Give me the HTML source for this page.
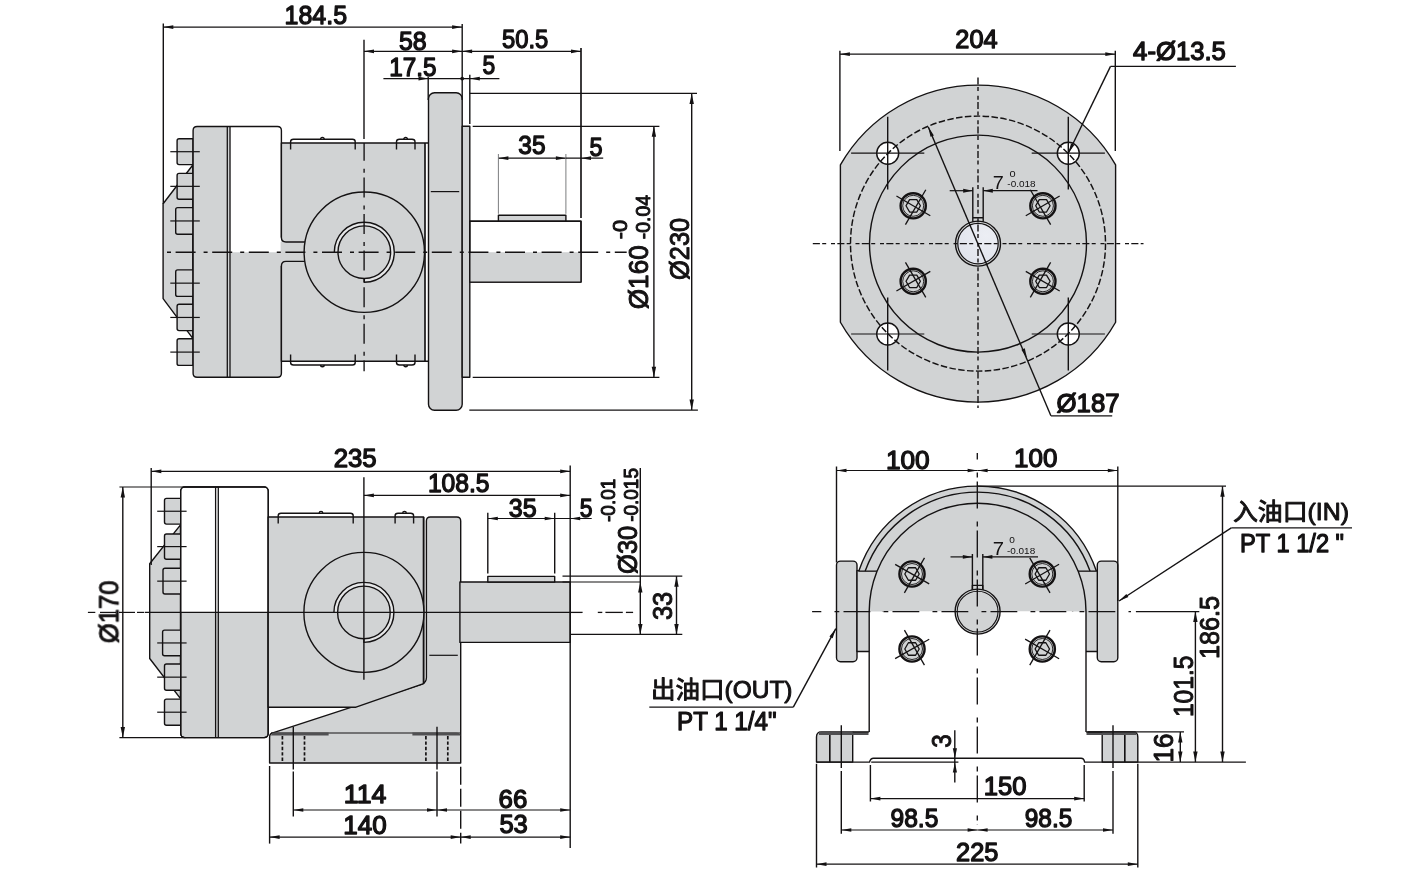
<!DOCTYPE html>
<html lang="zh">
<head>
<meta charset="utf-8">
<title>Pump dimension drawing</title>
<style>
html,body{margin:0;padding:0;background:#fff;}
body{width:1405px;height:877px;overflow:hidden;font-family:"Liberation Sans","Noto Sans CJK SC",sans-serif;}
svg{display:block;}
.o{fill:none;stroke:#141213;stroke-width:1.4;stroke-linejoin:round;}
.g{fill:#d1d3d4;stroke:#141213;stroke-width:1.4;stroke-linejoin:round;}
.w{fill:#fff;stroke:#141213;stroke-width:1.4;stroke-linejoin:round;}
.gf{fill:#d1d3d4;stroke:none;}
.wf{fill:#fff;stroke:none;}
.rf{fill:#e6e7e8;stroke:none;}
.d{fill:none;stroke:#141213;stroke-width:1.2;}
.dv{fill:none;stroke:#141213;stroke-width:1.4;}
.ov{fill:none;stroke:#141213;stroke-width:1.65;}
.oh{fill:none;stroke:#141213;stroke-width:1.25;}
.k{fill:none;stroke:#6d6e71;stroke-width:0.9;}
.c{fill:none;stroke:#141213;stroke-width:1.35;stroke-dasharray:20 8 4 4.6;stroke-dashoffset:26.6;}
.c2{fill:none;stroke:#141213;stroke-width:1.4;stroke-dasharray:7.1 2.3 4 4.8 4 2.3;}
.c3{fill:none;stroke:#141213;stroke-width:1.35;stroke-dasharray:26.8 13.2 4.8 4.2;}
.h{fill:none;stroke:#141213;stroke-width:1.45;stroke-dasharray:6.5 2.4;}
.a{fill:#141213;stroke:none;}
text{font-family:"Liberation Sans","Noto Sans CJK SC",sans-serif;fill:#141213;}
.t{stroke:#141213;stroke-width:1.35px;stroke-linejoin:round;}
.v{stroke:#141213;stroke-width:1.0px;stroke-linejoin:round;}
.l{stroke:#141213;stroke-width:0.95px;stroke-linejoin:round;}
.p{stroke:#141213;stroke-width:1.25px;stroke-linejoin:round;}
.s{stroke:none;}
</style>
</head>
<body>
<svg width="1405" height="877" viewBox="0 0 1405 877">
<defs><radialGradient id="holeg" cx="0.7" cy="0.3" r="0.9"><stop offset="0" stop-color="#eceef4"/><stop offset="1" stop-color="#dfe2eb"/></radialGradient></defs>
<rect x="0" y="0" width="1405" height="877" fill="#fff"/>
<g id="view-top-left">
<path class="g" d="M192.8 165 L163.1 203.8 L163.1 298.6 L192.8 338.4 Z"/>
<path class="g" d="M193 138.8 H179.1 Q177.1 138.8 177.1 140.8 V162.6 Q177.1 164.6 179.1 164.6 H193 Z"/>
<path class="g" d="M193 173.4 H179.1 Q177.1 173.4 177.1 175.4 V197.3 Q177.1 199.3 179.1 199.3 H193 Z"/>
<path class="g" d="M193 207.6 H177.7 Q175.7 207.6 175.7 209.6 V232.3 Q175.7 234.3 177.7 234.3 H193 Z"/>
<path class="g" d="M193 269.9 H177.7 Q175.7 269.9 175.7 271.9 V294.4 Q175.7 296.4 177.7 296.4 H193 Z"/>
<path class="g" d="M193 304.3 H179.1 Q177.1 304.3 177.1 306.3 V328.6 Q177.1 330.6 179.1 330.6 H193 Z"/>
<path class="g" d="M193 338.8 H179.1 Q177.1 338.8 177.1 340.8 V363.4 Q177.1 365.4 179.1 365.4 H193 Z"/>
<rect class="gf" x="193.1" y="126.5" width="88.3" height="250.8" rx="4"/>
<path class="wf" d="M230.4 252.2 V126.5 H277.4 Q281.4 126.5 281.4 130.5 V252.2 Z"/>
<path class="o" d="M281.4 237.5 V130.5 Q281.4 126.5 277.4 126.5 H197.1 Q193.1 126.5 193.1 130.5 V373.3 Q193.1 377.3 197.1 377.3 H277.4 Q281.4 377.3 281.4 373.3 V266"/>
<line class="dv" x1="227.3" y1="126.5" x2="227.3" y2="377.3" style="stroke-width:1.3"/>
<line class="dv" x1="230" y1="126.5" x2="230" y2="377.3" style="stroke-width:1.3"/>
<line class="d" x1="170.3" y1="151.7" x2="199.8" y2="151.7"/>
<line class="d" x1="170.3" y1="186.35" x2="199.8" y2="186.35"/>
<line class="d" x1="170.3" y1="220.95" x2="199.8" y2="220.95"/>
<line class="d" x1="170.3" y1="283.15" x2="199.8" y2="283.15"/>
<line class="d" x1="170.3" y1="317.45" x2="199.8" y2="317.45"/>
<line class="d" x1="170.3" y1="352.1" x2="199.8" y2="352.1"/>
<rect class="gf" x="280.6" y="242" width="25.4" height="19.4"/>
<rect class="gf" x="281.4" y="143" width="143.6" height="218.2"/>
<path class="o" d="M306 242 H286 Q281.4 242 281.4 237.5 V143 H428.5 M428.5 361.2 H281.4 V266 Q281.4 261.4 286 261.4 H306"/>
<line class="ov" x1="425" y1="143" x2="425" y2="361.2"/>
<path class="o" d="M290.6 149.6 V141.7 Q290.6 139.2 293.5 139.2 H352.5 Q355.2 139.2 355.2 141.7 V149.6"/>
<path class="o" d="M396.5 149.6 V141.7 Q396.5 139.2 399.5 139.2 H412 Q415 139.2 415 141.7 V149.6"/>
<path class="o" d="M320.6 139.2 A1.8 1.8 0 0 1 324.2 139.2"/>
<path class="o" d="M403.8 139.2 A1.8 1.8 0 0 1 407.4 139.2"/>
<path class="o" d="M290.6 354.6 V362.5 Q290.6 365 293.5 365 H352.5 Q355.2 365 355.2 362.5 V354.6"/>
<path class="o" d="M396.5 354.6 V362.5 Q396.5 365 399.5 365 H412 Q415 365 415 362.5 V354.6"/>
<path class="o" d="M320.6 365 A1.8 1.8 0 0 0 324.2 365"/>
<path class="o" d="M403.8 365 A1.8 1.8 0 0 0 407.4 365"/>
<circle class="g" cx="364.3" cy="252.2" r="60.2"/>
<path class="rf" d="M334.3 252.2 A30 30 0 1 1 364.3 282.2 V278.5 A26.3 26.3 0 1 0 338 252.2 Z"/>
<circle class="o" cx="364.3" cy="252.2" r="26.3"/>
<path class="o" d="M334.3 252.2 A30 30 0 1 1 364.3 282.2 V278.5"/>
<rect class="g" x="428.5" y="92.8" width="33.7" height="317.5" rx="6"/>
<line class="d" x1="430.8" y1="191.6" x2="459.2" y2="191.6"/>
<rect class="g" x="462.2" y="126.3" width="7.6" height="251"/>
<rect class="w" x="469.8" y="221.3" width="111.2" height="60.8"/>
<rect class="gf" x="469.8" y="252.2" width="111.2" height="29.9"/>
<rect class="o" x="469.8" y="221.3" width="111.2" height="60.8"/>
<rect class="g" x="498.4" y="215.3" width="67.5" height="5.7"/>
<line class="c" x1="165.6" y1="252.2" x2="626.7" y2="252.2"/>
<line class="dv" x1="364" y1="39.7" x2="364" y2="139"/>
<line class="c" x1="364.1" y1="143" x2="364.1" y2="371.3" stroke-dashoffset="2.2" style="stroke-dashoffset:2.2"/>
<line class="dv" x1="163.3" y1="23.5" x2="163.3" y2="204"/>
<line class="dv" x1="462.2" y1="24" x2="462.2" y2="100"/>
<line class="d" x1="163.3" y1="27.1" x2="462.1" y2="27.1"/>
<polygon class="a" points="163.3,27.1 173.3,25.25 173.3,28.95"/>
<polygon class="a" points="462.1,27.1 452.1,28.95 452.1,25.25"/>
<line class="d" x1="364" y1="51.3" x2="462.1" y2="51.3"/>
<polygon class="a" points="364,51.3 374,49.45 374,53.15"/>
<polygon class="a" points="462.1,51.3 452.1,53.15 452.1,49.45"/>
<line class="d" x1="383.4" y1="78.6" x2="499.4" y2="78.6"/>
<polygon class="a" points="428.5,78.6 418.5,80.45 418.5,76.75"/>
<circle class="a" cx="462.2" cy="78.6" r="1.9"/>
<line class="dv" x1="428.2" y1="76.8" x2="428.2" y2="100"/>
<polygon class="a" points="469.8,78.6 479.8,76.75 479.8,80.45"/>
<line class="dv" x1="469.8" y1="74.7" x2="469.8" y2="124"/>
<line class="d" x1="462.1" y1="51.3" x2="581" y2="51.3"/>
<polygon class="a" points="462.1,51.3 472.1,49.45 472.1,53.15"/>
<polygon class="a" points="581,51.3 571,53.15 571,49.45"/>
<line class="ov" x1="581" y1="47.9" x2="581" y2="218"/>
<line class="d" x1="469.8" y1="93.4" x2="697" y2="93.4"/>
<line class="d" x1="472.7" y1="126.3" x2="659.4" y2="126.3"/>
<line class="d" x1="472.7" y1="377.3" x2="659.4" y2="377.3"/>
<line class="d" x1="469.3" y1="410.1" x2="697.9" y2="410.1"/>
<line class="dv" x1="653.9" y1="126.3" x2="653.9" y2="377.3"/>
<polygon class="a" points="653.9,126.3 656.1,136.8 651.7,136.8"/>
<polygon class="a" points="653.9,377.3 651.7,366.8 656.1,366.8"/>
<line class="dv" x1="691.7" y1="93.4" x2="691.7" y2="410.1"/>
<polygon class="a" points="691.7,93.4 693.9,103.9 689.5,103.9"/>
<polygon class="a" points="691.7,410.1 689.5,399.6 693.9,399.6"/>
<line class="d" x1="498.4" y1="158.2" x2="565.9" y2="158.2"/>
<polygon class="a" points="498.4,158.2 508.4,156.35 508.4,160.05"/>
<polygon class="a" points="565.9,158.2 555.9,160.05 555.9,156.35"/>
<line class="k" x1="498.4" y1="154" x2="498.4" y2="213.8"/>
<line class="k" x1="565.9" y1="154" x2="565.9" y2="213.8"/>
<line class="d" x1="565.9" y1="158.2" x2="603.2" y2="158.2"/>
<polygon class="a" points="581,158.2 591,156.35 591,160.05"/>
</g>
<g id="view-top-right">
<path class="g" d="M840.4 164.93 A158.5 158.5 0 0 1 1115.6 164.93 V322.27 A158.5 158.5 0 0 1 840.4 322.27 Z"/>
<circle class="o" cx="978" cy="243.6" r="108.5"/>
<circle class="w" cx="887.7" cy="153.2" r="11"/>
<line class="d" x1="851.1" y1="153.2" x2="924.3" y2="153.2"/>
<line class="dv" x1="887.7" y1="116.8" x2="887.7" y2="189.6"/>
<circle class="w" cx="887.7" cy="334" r="11"/>
<line class="d" x1="851.1" y1="334" x2="924.3" y2="334"/>
<line class="dv" x1="887.7" y1="297.6" x2="887.7" y2="370.4"/>
<circle class="w" cx="1068.3" cy="153.2" r="11"/>
<line class="d" x1="1031.7" y1="153.2" x2="1104.9" y2="153.2"/>
<line class="dv" x1="1068.3" y1="116.8" x2="1068.3" y2="189.6"/>
<circle class="w" cx="1068.3" cy="334" r="11"/>
<line class="d" x1="1031.7" y1="334" x2="1104.9" y2="334"/>
<line class="dv" x1="1068.3" y1="297.6" x2="1068.3" y2="370.4"/>
<circle class="h" cx="978" cy="243.6" r="127.5"/>
<path class="o" d="M972.8 222.6 V187.2 M983.2 222.6 V187.2 M972.8 217.8 H983.2"/>
<circle cx="978" cy="243.6" r="22.5" fill="#d1d3d4" stroke="#141213" stroke-width="1.4"/>
<circle cx="978" cy="243.6" r="20.2" fill="url(#holeg)" stroke="#141213" stroke-width="1.2"/>
<g transform="translate(913.2 205.8)">
<circle class="o" r="12.6" style="stroke-width:2.4"/>
<circle class="o" r="10.5" style="stroke-width:0.9"/>
<polygon class="o" points="7.2,0 3.6,6.24 -3.6,6.24 -7.2,0 -3.6,-6.24 3.6,-6.24" style="stroke-width:1.3"/>
<g transform="rotate(30.26)"><line class="d" x1="-19.4" y1="0" x2="19.8" y2="0" style="stroke-width:1.3"/><line class="d" x1="2.8" y1="-20.2" x2="2.8" y2="20.2" style="stroke-width:1.3"/></g>
</g>
<g transform="translate(1042.9 205.8)">
<circle class="o" r="12.6" style="stroke-width:2.4"/>
<circle class="o" r="10.5" style="stroke-width:0.9"/>
<polygon class="o" points="7.2,0 3.6,6.24 -3.6,6.24 -7.2,0 -3.6,-6.24 3.6,-6.24" style="stroke-width:1.3"/>
<g transform="rotate(149.78)"><line class="d" x1="-19.4" y1="0" x2="19.8" y2="0" style="stroke-width:1.3"/><line class="d" x1="2.8" y1="-20.2" x2="2.8" y2="20.2" style="stroke-width:1.3"/></g>
</g>
<g transform="translate(913.2 281.3)">
<circle class="o" r="12.6" style="stroke-width:2.4"/>
<circle class="o" r="10.5" style="stroke-width:0.9"/>
<polygon class="o" points="7.2,0 3.6,6.24 -3.6,6.24 -7.2,0 -3.6,-6.24 3.6,-6.24" style="stroke-width:1.3"/>
<g transform="rotate(-30.19)"><line class="d" x1="-19.4" y1="0" x2="19.8" y2="0" style="stroke-width:1.3"/><line class="d" x1="2.8" y1="-20.2" x2="2.8" y2="20.2" style="stroke-width:1.3"/></g>
</g>
<g transform="translate(1042.9 281.3)">
<circle class="o" r="12.6" style="stroke-width:2.4"/>
<circle class="o" r="10.5" style="stroke-width:0.9"/>
<polygon class="o" points="7.2,0 3.6,6.24 -3.6,6.24 -7.2,0 -3.6,-6.24 3.6,-6.24" style="stroke-width:1.3"/>
<g transform="rotate(-149.85)"><line class="d" x1="-19.4" y1="0" x2="19.8" y2="0" style="stroke-width:1.3"/><line class="d" x1="2.8" y1="-20.2" x2="2.8" y2="20.2" style="stroke-width:1.3"/></g>
</g>
<line class="c2" x1="812.8" y1="243.6" x2="1143.5" y2="243.6"/>
<line class="c2" x1="978" y1="77.5" x2="978" y2="408.1"/>
<line class="dv" x1="839.9" y1="50.7" x2="839.9" y2="151.1"/>
<line class="dv" x1="1115.3" y1="50.7" x2="1115.3" y2="151.1"/>
<line class="d" x1="839.9" y1="54.2" x2="1115.3" y2="54.2"/>
<polygon class="a" points="839.9,54.2 849.9,52.35 849.9,56.05"/>
<polygon class="a" points="1115.3,54.2 1105.3,56.05 1105.3,52.35"/>
<line class="o" x1="1068.3" y1="153.2" x2="1110.5" y2="66.4"/>
<line class="d" x1="1110.5" y1="66.4" x2="1235.9" y2="66.4"/>
<polygon class="a" points="1068.3,153.2 1071.01,143.4 1074.34,145.02"/>
<line class="o" x1="928.3" y1="126.9" x2="1050.9" y2="415.8"/>
<line class="d" x1="1050.9" y1="415.8" x2="1112.2" y2="415.8"/>
<polygon class="a" points="928.3,126.9 933.91,135.38 930.5,136.83"/>
<polygon class="a" points="1027,358.2 1021.39,349.72 1024.8,348.27"/>
<line class="d" x1="949.7" y1="190.7" x2="972.8" y2="190.7"/>
<polygon class="a" points="972.8,190.7 963.2,192.65 963.2,188.75"/>
<line class="d" x1="983.2" y1="190.7" x2="1037.5" y2="190.7"/>
<polygon class="a" points="983.2,190.7 992.8,188.75 992.8,192.65"/>
</g>
<g id="view-bottom-left">
<path class="g" d="M180.5 524.9 L149.7 563.7 L149.7 658.5 L180.5 698.6 Z"/>
<path class="g" d="M180.7 498.4 H166.5 Q164.5 498.4 164.5 500.4 V522.1 Q164.5 524.1 166.5 524.1 H180.7 Z"/>
<path class="g" d="M180.7 534 H166.5 Q164.5 534 164.5 536 V557.2 Q164.5 559.2 166.5 559.2 H180.7 Z"/>
<path class="g" d="M180.7 568.3 H165 Q163 568.3 163 570.3 V592 Q163 594 165 594 H180.7 Z"/>
<path class="g" d="M180.7 630.1 H164.6 Q162.6 630.1 162.6 632.1 V653.8 Q162.6 655.8 164.6 655.8 H180.7 Z"/>
<path class="g" d="M180.7 664 H166.5 Q164.5 664 164.5 666 V688.3 Q164.5 690.3 166.5 690.3 H180.7 Z"/>
<path class="g" d="M180.7 699.1 H166.5 Q164.5 699.1 164.5 701.1 V723.3 Q164.5 725.3 166.5 725.3 H180.7 Z"/>
<rect class="g" x="180.7" y="487" width="87.5" height="250.6" rx="4"/>
<path class="wf" d="M181.4 612.4 V491 Q181.4 487.7 185 487.7 H264 Q267.5 487.7 267.5 491 V612.4 Z"/>
<rect class="o" x="180.7" y="487" width="87.5" height="250.6" rx="4"/>
<line class="dv" x1="215.6" y1="487" x2="215.6" y2="737.6" style="stroke-width:1.3"/>
<line class="dv" x1="218.3" y1="487" x2="218.3" y2="737.6" style="stroke-width:1.3"/>
<line class="d" x1="157.2" y1="511.25" x2="186.6" y2="511.25"/>
<line class="d" x1="157.2" y1="546.6" x2="186.6" y2="546.6"/>
<line class="d" x1="157.2" y1="581.15" x2="186.6" y2="581.15"/>
<line class="d" x1="157.2" y1="642.95" x2="186.6" y2="642.95"/>
<line class="d" x1="157.2" y1="677.15" x2="186.6" y2="677.15"/>
<line class="d" x1="157.2" y1="712.2" x2="186.6" y2="712.2"/>
<path class="g" d="M269.6 763 V737 Q269.6 733.2 273.5 732.6 L421.5 684.4 Q426.4 682.6 426.4 677.5 V521 Q426.4 517 430.4 517 H456.7 Q460.7 517 460.7 521 V763 Z"/>
<path class="g" d="M268.2 517 H423.6 V683.6 L356 707.2 H268.2 Z"/>
<line class="ov" x1="423.6" y1="517" x2="423.6" y2="683.6"/>
<path class="o" d="M278.2 523.5 V515.7 Q278.2 513.2 281 513.2 H350.4 Q353.2 513.2 353.2 515.7 V523.5"/>
<path class="o" d="M395.1 523.5 V515.7 Q395.1 513.2 398 513.2 H410.6 Q413.6 513.2 413.6 515.7 V523.5"/>
<path class="o" d="M319.2 513.2 A1.8 1.8 0 0 1 322.8 513.2"/>
<path class="o" d="M402.7 513.2 A1.8 1.8 0 0 1 406.3 513.2"/>
<circle class="g" cx="363.9" cy="612.4" r="60"/>
<path class="rf" d="M333.9 612.4 A30 30 0 1 1 363.9 642.4 V638.7 A26.3 26.3 0 1 0 337.6 612.4 Z"/>
<circle class="o" cx="363.9" cy="612.4" r="26.3"/>
<path class="o" d="M333.9 612.4 A30 30 0 1 1 363.9 642.4 V638.7"/>
<line class="d" x1="429.3" y1="655.3" x2="457.8" y2="655.3"/>
<line class="d" x1="271" y1="733" x2="460.7" y2="733"/>
<path d="M271 735.6 Q271.6 732.4 275 732.4 H328.6 V735.6 Z" fill="#505052"/>
<path d="M412.4 732.4 H456 Q460 732.4 460.5 735.6 H412.4 Z" fill="#505052"/>
<line class="h" x1="282.4" y1="736" x2="282.4" y2="762.5" style="stroke-dasharray:3.4 2;stroke-width:1.7"/>
<line class="h" x1="304.5" y1="736" x2="304.5" y2="762.5" style="stroke-dasharray:3.4 2;stroke-width:1.7"/>
<line class="h" x1="425.9" y1="736" x2="425.9" y2="762.5" style="stroke-dasharray:3.4 2;stroke-width:1.7"/>
<line class="h" x1="447.8" y1="736" x2="447.8" y2="762.5" style="stroke-dasharray:3.4 2;stroke-width:1.7"/>
<rect class="g" x="459.9" y="582" width="110.3" height="60.4"/>
<rect class="g" x="487.8" y="576.4" width="66.9" height="5.6"/>
<line class="d" x1="87.9" y1="612.4" x2="95.3" y2="612.4"/>
<line class="d" x1="100" y1="612.4" x2="116" y2="612.4"/>
<line class="d" x1="119" y1="612.4" x2="135" y2="612.4"/>
<line class="d" x1="137" y1="612.4" x2="144.3" y2="612.4"/>
<line class="d" x1="145" y1="612.4" x2="570" y2="612.4" style="stroke-width:1.1"/>
<line class="d" x1="570.8" y1="612.4" x2="582.6" y2="612.4" style="stroke-width:1.3"/>
<line class="d" x1="597.8" y1="612.4" x2="602.3" y2="612.4" style="stroke-width:1.3"/>
<line class="d" x1="605.4" y1="612.4" x2="622.8" y2="612.4" style="stroke-width:1.3"/>
<line class="d" x1="625.9" y1="612.4" x2="633.1" y2="612.4" style="stroke-width:1.3"/>
<line class="dv" x1="363.9" y1="477.3" x2="363.9" y2="679.7"/>
<line class="dv" x1="151.2" y1="468" x2="151.2" y2="565"/>
<line class="dv" x1="570.2" y1="465.6" x2="570.2" y2="848"/>
<line class="d" x1="151.3" y1="471.3" x2="570.2" y2="471.3"/>
<polygon class="a" points="151.3,471.3 161.3,469.45 161.3,473.15"/>
<polygon class="a" points="570.2,471.3 560.2,473.15 560.2,469.45"/>
<line class="d" x1="363.9" y1="495.4" x2="570.2" y2="495.4"/>
<polygon class="a" points="363.9,495.4 373.9,493.55 373.9,497.25"/>
<polygon class="a" points="570.2,495.4 560.2,497.25 560.2,493.55"/>
<line class="d" x1="487.8" y1="518.5" x2="554.7" y2="518.5"/>
<polygon class="a" points="487.8,518.5 497.8,516.65 497.8,520.35"/>
<polygon class="a" points="554.7,518.5 544.7,520.35 544.7,516.65"/>
<line class="dv" x1="487.8" y1="512.8" x2="487.8" y2="573.4"/>
<line class="dv" x1="554.7" y1="512.8" x2="554.7" y2="573.4"/>
<line class="d" x1="554.7" y1="518.5" x2="591.7" y2="518.5"/>
<polygon class="a" points="570.2,518.5 580.2,516.65 580.2,520.35"/>
<line class="d" x1="119.4" y1="487" x2="219.7" y2="487"/>
<line class="d" x1="119.4" y1="737.6" x2="185.5" y2="737.6"/>
<line class="dv" x1="122.8" y1="487" x2="122.8" y2="737.6"/>
<polygon class="a" points="122.8,487 125,497.5 120.6,497.5"/>
<polygon class="a" points="122.8,737.6 120.6,727.1 125,727.1"/>
<line class="d" x1="562.5" y1="576.2" x2="682.3" y2="576.2"/>
<line class="d" x1="562.5" y1="582" x2="641" y2="582"/>
<line class="d" x1="571" y1="634.4" x2="682.3" y2="634.4"/>
<line class="dv" x1="640.3" y1="468" x2="640.3" y2="634.4"/>
<polygon class="a" points="640.3,582 642.5,592.5 638.1,592.5"/>
<polygon class="a" points="640.3,634.4 638.1,623.9 642.5,623.9"/>
<line class="dv" x1="676.5" y1="576.2" x2="676.5" y2="634.4"/>
<polygon class="a" points="676.5,576.2 678.7,586.7 674.3,586.7"/>
<polygon class="a" points="676.5,634.4 674.3,623.9 678.7,623.9"/>
<line class="dv" x1="293.3" y1="726.8" x2="293.3" y2="769.5"/>
<line class="dv" x1="293.3" y1="771.5" x2="293.3" y2="816.6"/>
<line class="dv" x1="437" y1="726.8" x2="437" y2="769.5"/>
<line class="dv" x1="437" y1="771.5" x2="437" y2="816.6"/>
<line class="dv" x1="269.6" y1="766" x2="269.6" y2="843.6"/>
<line class="dv" x1="460.7" y1="766.7" x2="460.7" y2="843.6" style="stroke-dasharray:18 4"/>
<line class="d" x1="293.3" y1="810" x2="437" y2="810"/>
<polygon class="a" points="293.3,810 303.3,808.15 303.3,811.85"/>
<polygon class="a" points="437,810 427,811.85 427,808.15"/>
<line class="d" x1="269.6" y1="837.1" x2="460.7" y2="837.1"/>
<polygon class="a" points="269.6,837.1 279.6,835.25 279.6,838.95"/>
<polygon class="a" points="460.7,837.1 450.7,838.95 450.7,835.25"/>
<line class="d" x1="437" y1="810" x2="570.2" y2="810"/>
<polygon class="a" points="437,810 447,808.15 447,811.85"/>
<polygon class="a" points="570.2,810 560.2,811.85 560.2,808.15"/>
<line class="d" x1="460.7" y1="837.1" x2="570.2" y2="837.1"/>
<polygon class="a" points="460.7,837.1 470.7,835.25 470.7,838.95"/>
<polygon class="a" points="570.2,837.1 560.2,838.95 560.2,835.25"/>
<line class="d" x1="649.3" y1="707.1" x2="793.3" y2="707.1"/>
<line class="o" x1="793.3" y1="707.1" x2="835.8" y2="628.7"/>
<polygon class="a" points="835.8,628.7 832.66,638.37 829.41,636.61"/>
</g>
<g id="view-bottom-right">
<rect class="g" x="836.5" y="561.1" width="20.5" height="100.7" rx="4"/>
<rect class="g" x="857" y="570.6" width="25.6" height="80.9"/>
<rect class="g" x="1097.3" y="561.1" width="20.5" height="100.7" rx="4"/>
<rect class="g" x="1072.6" y="570.6" width="24.7" height="80.9"/>
<path class="g" d="M858.81 571.1 A125.5 125.5 0 0 1 1096.39 571.1 H858.81 Z"/>
<path class="o" d="M865.17 571.1 A119.5 119.5 0 0 1 1090.03 571.1"/>
<path class="gf" d="M869.2 611.6 A108.4 108.4 0 0 1 1086 611.6 Z"/>
<path class="wf" d="M869.2 611.6 H1086 V731.9 H869.2 Z"/>
<path class="o" d="M869.2 731.9 V611.6 A108.4 108.4 0 0 1 1086 611.6 V731.9"/>
<path class="o" d="M972.4 590.6 V554 M982.8 590.6 V554"/>
<rect class="o" x="972.4" y="585.4" width="10.4" height="5.6"/>
<circle class="g" cx="977.6" cy="611.6" r="22.5"/>
<circle class="g" cx="977.6" cy="611.6" r="20.4" style="stroke-width:1.1"/>
<circle cx="912" cy="574" r="12.7" fill="#d1d3d4"/>
<g transform="translate(912 574)">
<circle class="o" r="12.6" style="stroke-width:2.4"/>
<circle class="o" r="10.5" style="stroke-width:0.9"/>
<polygon class="o" points="7.2,0 3.6,6.24 -3.6,6.24 -7.2,0 -3.6,-6.24 3.6,-6.24" style="stroke-width:1.3"/>
<g transform="rotate(29.82)"><line class="d" x1="-19.4" y1="0" x2="19.8" y2="0" style="stroke-width:1.3"/><line class="d" x1="2.8" y1="-20.2" x2="2.8" y2="20.2" style="stroke-width:1.3"/></g>
</g>
<circle cx="1042.3" cy="574" r="12.7" fill="#d1d3d4"/>
<g transform="translate(1042.3 574)">
<circle class="o" r="12.6" style="stroke-width:2.4"/>
<circle class="o" r="10.5" style="stroke-width:0.9"/>
<polygon class="o" points="7.2,0 3.6,6.24 -3.6,6.24 -7.2,0 -3.6,-6.24 3.6,-6.24" style="stroke-width:1.3"/>
<g transform="rotate(149.84)"><line class="d" x1="-19.4" y1="0" x2="19.8" y2="0" style="stroke-width:1.3"/><line class="d" x1="2.8" y1="-20.2" x2="2.8" y2="20.2" style="stroke-width:1.3"/></g>
</g>
<circle cx="912" cy="649" r="12.7" fill="#d1d3d4"/>
<g transform="translate(912 649)">
<circle class="o" r="12.6" style="stroke-width:2.4"/>
<circle class="o" r="10.5" style="stroke-width:0.9"/>
<polygon class="o" points="7.2,0 3.6,6.24 -3.6,6.24 -7.2,0 -3.6,-6.24 3.6,-6.24" style="stroke-width:1.3"/>
<g transform="rotate(-29.69)"><line class="d" x1="-19.4" y1="0" x2="19.8" y2="0" style="stroke-width:1.3"/><line class="d" x1="2.8" y1="-20.2" x2="2.8" y2="20.2" style="stroke-width:1.3"/></g>
</g>
<circle cx="1042.3" cy="649" r="12.7" fill="#d1d3d4"/>
<g transform="translate(1042.3 649)">
<circle class="o" r="12.6" style="stroke-width:2.4"/>
<circle class="o" r="10.5" style="stroke-width:0.9"/>
<polygon class="o" points="7.2,0 3.6,6.24 -3.6,6.24 -7.2,0 -3.6,-6.24 3.6,-6.24" style="stroke-width:1.3"/>
<g transform="rotate(-149.97)"><line class="d" x1="-19.4" y1="0" x2="19.8" y2="0" style="stroke-width:1.3"/><line class="d" x1="2.8" y1="-20.2" x2="2.8" y2="20.2" style="stroke-width:1.3"/></g>
</g>
<path class="g" d="M816.5 762.1 V737 Q816.5 731.9 821.5 731.9 H852.7 V762.1 Z"/>
<path class="g" d="M1137.8 762.1 V737 Q1137.8 731.9 1132.8 731.9 H1102.2 V762.1 Z"/>
<line class="ov" x1="829.8" y1="731.9" x2="829.8" y2="762.1"/>
<line class="ov" x1="1124.8" y1="731.9" x2="1124.8" y2="762.1"/>
<rect x="819" y="731.6" width="49.5" height="3.4" fill="#505052"/>
<rect x="1086.5" y="731.6" width="49.5" height="3.4" fill="#505052"/>
<line class="oh" x1="852.7" y1="731.9" x2="869.2" y2="731.9"/>
<line class="oh" x1="1086" y1="731.9" x2="1102.2" y2="731.9"/>
<path class="o" d="M816.5 762.1 H869.5 Q870.6 758.3 873.5 758.3 H1081 Q1084 758.3 1084.6 762.1 H1245.9"/>
<line class="d" x1="871.2" y1="762.1" x2="958.4" y2="762.1"/>
<line class="c3" x1="812.1" y1="611.6" x2="1131" y2="611.6" stroke-dashoffset="17.6"/>
<line class="d" x1="1135.9" y1="611.6" x2="1199.3" y2="611.6"/>
<line class="c3" x1="977.3" y1="453" x2="977.3" y2="824.7" stroke-dashoffset="20.4"/>
<line class="dv" x1="836.5" y1="466.5" x2="836.5" y2="562.5"/>
<line class="dv" x1="1117.8" y1="466.5" x2="1117.8" y2="601"/>
<line class="d" x1="836.5" y1="470.5" x2="977.6" y2="470.5"/>
<polygon class="a" points="836.5,470.5 846.5,468.65 846.5,472.35"/>
<polygon class="a" points="977.6,470.5 967.6,472.35 967.6,468.65"/>
<line class="d" x1="977.6" y1="470.5" x2="1117.8" y2="470.5"/>
<polygon class="a" points="977.6,470.5 987.6,468.65 987.6,472.35"/>
<polygon class="a" points="1117.8,470.5 1107.8,472.35 1107.8,468.65"/>
<line class="d" x1="950.5" y1="556.9" x2="972.4" y2="556.9"/>
<polygon class="a" points="972.4,556.9 962.8,558.85 962.8,554.95"/>
<line class="d" x1="982.8" y1="556.9" x2="1038" y2="556.9"/>
<polygon class="a" points="982.8,556.9 992.4,554.95 992.4,558.85"/>
<line class="dv" x1="954.8" y1="730.2" x2="954.8" y2="782.4"/>
<polygon class="a" points="954.9,758.3 952.8,748.3 957,748.3"/>
<polygon class="a" points="954.9,762.4 957,772.4 952.8,772.4"/>
<line class="dv" x1="816.5" y1="763.8" x2="816.5" y2="867.5"/>
<line class="dv" x1="1137.8" y1="763.8" x2="1137.8" y2="867.5"/>
<line class="dv" x1="841.3" y1="725.3" x2="841.3" y2="768"/>
<line class="dv" x1="841.3" y1="771" x2="841.3" y2="833.7"/>
<line class="dv" x1="1113" y1="725.3" x2="1113" y2="768"/>
<line class="dv" x1="1113" y1="771" x2="1113" y2="833.7"/>
<line class="dv" x1="870.4" y1="765" x2="870.4" y2="801.5"/>
<line class="dv" x1="1084.2" y1="765" x2="1084.2" y2="801.5"/>
<line class="d" x1="870.4" y1="798.6" x2="1084.2" y2="798.6"/>
<polygon class="a" points="870.4,798.6 880.4,796.75 880.4,800.45"/>
<polygon class="a" points="1084.2,798.6 1074.2,800.45 1074.2,796.75"/>
<line class="d" x1="841.3" y1="830" x2="977.6" y2="830"/>
<polygon class="a" points="841.3,830 851.3,828.15 851.3,831.85"/>
<polygon class="a" points="977.6,830 967.6,831.85 967.6,828.15"/>
<line class="d" x1="977.6" y1="830" x2="1113" y2="830"/>
<polygon class="a" points="977.6,830 987.6,828.15 987.6,831.85"/>
<polygon class="a" points="1113,830 1103,831.85 1103,828.15"/>
<line class="d" x1="816.5" y1="864.2" x2="1137.8" y2="864.2"/>
<polygon class="a" points="816.5,864.2 826.5,862.35 826.5,866.05"/>
<polygon class="a" points="1137.8,864.2 1127.8,866.05 1127.8,862.35"/>
<line class="d" x1="977.6" y1="486.2" x2="1226" y2="486.2"/>
<line class="dv" x1="1222.5" y1="486.2" x2="1222.5" y2="762.1"/>
<polygon class="a" points="1222.5,486.2 1224.7,496.7 1220.3,496.7"/>
<polygon class="a" points="1222.5,762.1 1220.3,751.6 1224.7,751.6"/>
<line class="dv" x1="1195.4" y1="611.6" x2="1195.4" y2="762.1"/>
<polygon class="a" points="1195.4,611.6 1197.6,622.1 1193.2,622.1"/>
<polygon class="a" points="1195.4,762.1 1193.2,751.6 1197.6,751.6"/>
<line class="d" x1="1087.7" y1="731.9" x2="1184" y2="731.9"/>
<line class="dv" x1="1180.3" y1="731.9" x2="1180.3" y2="762.1"/>
<polygon class="a" points="1180.3,731.9 1182.5,742.4 1178.1,742.4"/>
<polygon class="a" points="1180.3,762.1 1178.1,751.6 1182.5,751.6"/>
<line class="d" x1="1231.3" y1="527.9" x2="1352" y2="527.9"/>
<line class="o" x1="1231.3" y1="527.9" x2="1119" y2="601"/>
<polygon class="a" points="1119,601 1126.38,594 1128.39,597.1"/>
</g>
<g id="labels" opacity="0.999">
<text class="t" x="284.57" y="23.65" font-size="26.3" textLength="62.47" lengthAdjust="spacingAndGlyphs">184.5</text>
<text class="t" x="398.91" y="50" font-size="26.3" textLength="27.68" lengthAdjust="spacingAndGlyphs">58</text>
<text class="t" x="501.99" y="47.9" font-size="26.3" textLength="46.34" lengthAdjust="spacingAndGlyphs">50.5</text>
<text class="t" x="389.28" y="75.75" font-size="26.3" textLength="47.23" lengthAdjust="spacingAndGlyphs">17.5</text>
<text class="t" x="482.59" y="74.46" font-size="26.3" textLength="12.72" lengthAdjust="spacingAndGlyphs">5</text>
<text class="t" x="518.3" y="154.21" font-size="26.3" textLength="27.22" lengthAdjust="spacingAndGlyphs">35</text>
<text class="t" x="589.6" y="155.56" font-size="26.3" textLength="13.07" lengthAdjust="spacingAndGlyphs">5</text>
<text class="v" transform="translate(648.3 309.19) rotate(-90)" font-size="28.3" textLength="63.87" lengthAdjust="spacingAndGlyphs">Ø160</text>
<text class="v" transform="translate(626.81 239.17) rotate(-90)" font-size="20.7" textLength="19.27" lengthAdjust="spacingAndGlyphs">-0</text>
<text class="v" transform="translate(649.53 239.19) rotate(-90)" font-size="20.7" textLength="44.22" lengthAdjust="spacingAndGlyphs">-0.04</text>
<text class="v" transform="translate(688.66 279.95) rotate(-90)" font-size="28.3" textLength="62.23" lengthAdjust="spacingAndGlyphs">Ø230</text>
<text class="t" x="955.36" y="47.65" font-size="26.3" textLength="42.25" lengthAdjust="spacingAndGlyphs">204</text>
<text class="t" x="1133.11" y="59.9" font-size="26.3" textLength="92.81" lengthAdjust="spacingAndGlyphs">4-Ø13.5</text>
<text class="t" x="1056.57" y="411.65" font-size="26.3" textLength="63.01" lengthAdjust="spacingAndGlyphs">Ø187</text>
<text class="s" x="992.88" y="188.83" font-size="17.7" textLength="11.1" lengthAdjust="spacingAndGlyphs">7</text>
<text class="s" x="1009.59" y="177.48" font-size="8.5" textLength="6.11" lengthAdjust="spacingAndGlyphs">0</text>
<text class="s" x="1007.33" y="187.18" font-size="9.5" textLength="28.24" lengthAdjust="spacingAndGlyphs">-0.018</text>
<text class="t" x="333.63" y="467.25" font-size="26.3" textLength="43.02" lengthAdjust="spacingAndGlyphs">235</text>
<text class="t" x="427.88" y="492.45" font-size="26.3" textLength="61.67" lengthAdjust="spacingAndGlyphs">108.5</text>
<text class="t" x="508.69" y="517.16" font-size="26.3" textLength="27.89" lengthAdjust="spacingAndGlyphs">35</text>
<text class="t" x="579.72" y="516.88" font-size="26.3" textLength="12.82" lengthAdjust="spacingAndGlyphs">5</text>
<text class="v" transform="translate(118.29 643.27) rotate(-90)" font-size="28.3" textLength="62.67" lengthAdjust="spacingAndGlyphs">Ø170</text>
<text class="v" transform="translate(637.05 574.01) rotate(-90)" font-size="28.3" textLength="48.35" lengthAdjust="spacingAndGlyphs">Ø30</text>
<text class="v" transform="translate(615.24 521.97) rotate(-90)" font-size="20.7" textLength="43.3" lengthAdjust="spacingAndGlyphs">-0.01</text>
<text class="v" transform="translate(638.05 521.76) rotate(-90)" font-size="20.7" textLength="53.71" lengthAdjust="spacingAndGlyphs">-0.015</text>
<text class="v" transform="translate(671.95 620.08) rotate(-90)" font-size="28.3" textLength="28.28" lengthAdjust="spacingAndGlyphs">33</text>
<text class="t" x="343.83" y="803" font-size="26.3" textLength="42.54" lengthAdjust="spacingAndGlyphs">114</text>
<text class="t" x="343.19" y="834.1" font-size="26.3" textLength="43.44" lengthAdjust="spacingAndGlyphs">140</text>
<text class="t" x="498.61" y="808.06" font-size="26.3" textLength="28.76" lengthAdjust="spacingAndGlyphs">66</text>
<text class="t" x="499.39" y="832.81" font-size="26.3" textLength="28.46" lengthAdjust="spacingAndGlyphs">53</text>
<text class="l" x="651.04" y="697.6" font-size="23.8" textLength="141.48" lengthAdjust="spacingAndGlyphs">出油口(OUT)</text>
<text class="p" x="677.1" y="730.25" font-size="26.5" textLength="99.35" lengthAdjust="spacingAndGlyphs">PT 1 1/4"</text>
<text class="t" x="885.93" y="469" font-size="26.3" textLength="43.79" lengthAdjust="spacingAndGlyphs">100</text>
<text class="t" x="1014.1" y="467" font-size="26.3" textLength="43.34" lengthAdjust="spacingAndGlyphs">100</text>
<text class="s" x="992.72" y="554.9" font-size="17.7" textLength="11.3" lengthAdjust="spacingAndGlyphs">7</text>
<text class="s" x="1009.18" y="543.48" font-size="8.5" textLength="5.62" lengthAdjust="spacingAndGlyphs">0</text>
<text class="s" x="1006.93" y="554.17" font-size="9.5" textLength="28.27" lengthAdjust="spacingAndGlyphs">-0.018</text>
<text class="v" transform="translate(951.24 747.81) rotate(-90)" font-size="28.3" textLength="13.51" lengthAdjust="spacingAndGlyphs">3</text>
<text class="t" x="983.85" y="794.65" font-size="26.3" textLength="42.81" lengthAdjust="spacingAndGlyphs">150</text>
<text class="t" x="890.51" y="826.65" font-size="26.3" textLength="47.81" lengthAdjust="spacingAndGlyphs">98.5</text>
<text class="t" x="1024.75" y="826.65" font-size="26.3" textLength="47.5" lengthAdjust="spacingAndGlyphs">98.5</text>
<text class="t" x="956.1" y="861.45" font-size="26.3" textLength="42.37" lengthAdjust="spacingAndGlyphs">225</text>
<text class="v" transform="translate(1219.3 659.07) rotate(-90)" font-size="28.3" textLength="62.99" lengthAdjust="spacingAndGlyphs">186.5</text>
<text class="v" transform="translate(1192.58 717.08) rotate(-90)" font-size="28.3" textLength="61.56" lengthAdjust="spacingAndGlyphs">101.5</text>
<text class="v" transform="translate(1172.89 762.53) rotate(-90)" font-size="28.3" textLength="29.07" lengthAdjust="spacingAndGlyphs">16</text>
<text class="l" x="1232.9" y="520.31" font-size="23.8" textLength="116.17" lengthAdjust="spacingAndGlyphs">入油口(IN)</text>
<text class="p" x="1240.07" y="551.75" font-size="26.5" textLength="103.95" lengthAdjust="spacingAndGlyphs">PT 1 1/2 "</text>
</g>
</svg>
</body>
</html>
